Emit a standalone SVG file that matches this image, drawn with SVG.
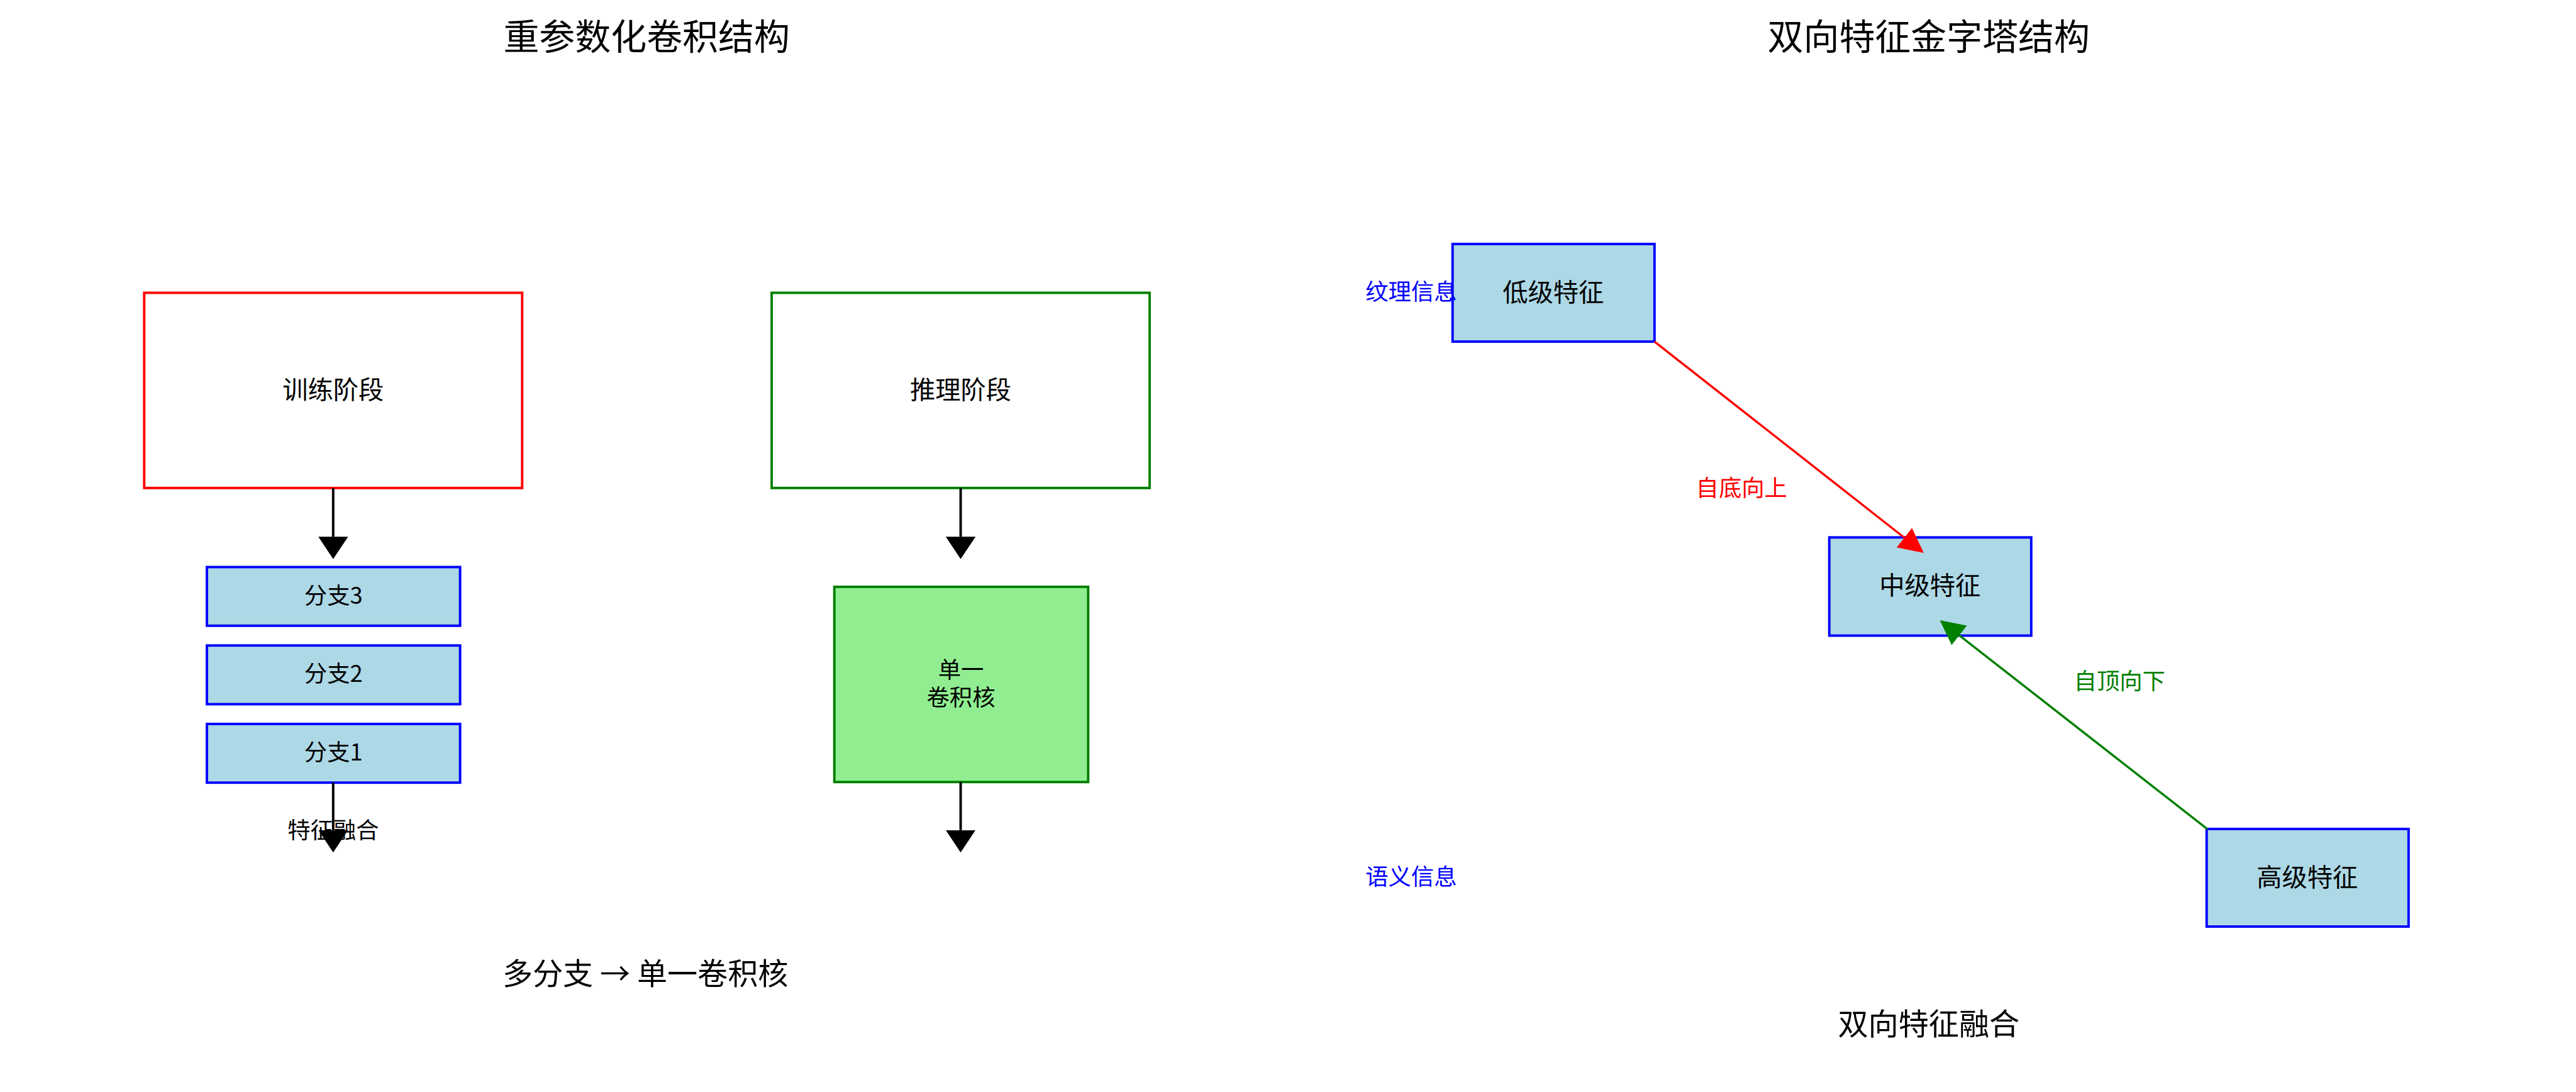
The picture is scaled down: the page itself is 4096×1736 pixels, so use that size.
<svg xmlns="http://www.w3.org/2000/svg" width="4096" height="1736" viewBox="0 0 4096 1736">
<style>
text{font-family:"Noto Sans CJK SC","Noto Sans",sans-serif;text-anchor:middle;dominant-baseline:central;fill:#000}
.title{font-size:58px}
.cap{font-size:49px}
.lab{font-size:41px}
.sm{font-size:37px}
.blue{fill:#0000FF}
.red{fill:#FF0000}
.grn{fill:#008000}
.box-b{fill:#ADD8E6;stroke:#0000FF;stroke-width:4}
</style>
<defs>
<marker id="ah-k" markerUnits="userSpaceOnUse" viewBox="0 -24 36 48" refX="0" refY="0" markerWidth="36" markerHeight="48" orient="auto"><path d="M0,-24 L36,0 L0,24 Z" fill="#000"/></marker>
<marker id="ah-r" markerUnits="userSpaceOnUse" viewBox="0 -20 40 40" refX="0" refY="0" markerWidth="40" markerHeight="40" orient="auto"><path d="M0,-20 L40,0 L0,20 Z" fill="#FF0000"/></marker>
<marker id="ah-g" markerUnits="userSpaceOnUse" viewBox="0 -20 40 40" refX="0" refY="0" markerWidth="40" markerHeight="40" orient="auto"><path d="M0,-20 L40,0 L0,20 Z" fill="#008000"/></marker>
</defs>
<rect width="4096" height="1736" fill="#fff"/>
<g transform="scale(0.982)">
<g id="titles">
<text class="title" x="1047" y="55">重参数化卷积结构</text>
<text class="title" x="3123" y="55">双向特征金字塔结构</text>
<text class="cap" x="1045" y="1572">多分支 → 单一卷积核</text>
<text class="cap" x="3123" y="1654">双向特征融合</text>
</g>
<g id="train">
<rect x="233.5" y="474" width="612" height="316" fill="#fff" stroke="#FF0000" stroke-width="4"/>
<text class="lab" x="539.5" y="628">训练阶段</text>
</g>
<g id="branch3"><rect class="box-b" x="335" y="918" width="410" height="95"/><text class="sm" x="540" y="961">分支3</text></g>
<g id="branch2"><rect class="box-b" x="335" y="1045" width="410" height="95"/><text class="sm" x="540" y="1088">分支2</text></g>
<g id="branch1"><rect class="box-b" x="335" y="1172" width="410" height="95"/><text class="sm" x="540" y="1215">分支1</text></g>
<g id="fusion-label"><text class="sm" x="539.5" y="1341">特征融合</text></g>
<g id="infer">
<rect x="1249.5" y="474" width="612" height="316" fill="#fff" stroke="#008000" stroke-width="4"/>
<text class="lab" x="1555.5" y="628">推理阶段</text>
</g>
<g id="single">
<rect x="1351" y="950" width="411" height="316" fill="#90EE90" stroke="#008000" stroke-width="4"/>
<text class="sm" x="1556" y="1081">单一</text>
<text class="sm" x="1556" y="1126">卷积核</text>
</g>
<g id="low">
<rect class="box-b" x="2352" y="395" width="327" height="158"/>
<text class="lab" x="2515" y="470">低级特征</text>
</g>
<g id="mid">
<rect class="box-b" x="2962" y="870" width="327" height="159"/>
<text class="lab" x="3125" y="945">中级特征</text>
</g>
<g id="high">
<rect class="box-b" x="3573" y="1342" width="327" height="158"/>
<text class="lab" x="3736" y="1417">高级特征</text>
</g>
<g id="side-labels">
<text class="sm blue" x="2285" y="469">纹理信息</text>
<text class="sm blue" x="2285" y="1417">语义信息</text>
</g>
<g id="connectors">
<line x1="539.5" y1="790" x2="539.5" y2="869" stroke="#000" stroke-width="4" marker-end="url(#ah-k)"/>
<line x1="539.5" y1="1267" x2="539.5" y2="1344" stroke="#000" stroke-width="4" marker-end="url(#ah-k)"/>
<line x1="1555.5" y1="790" x2="1555.5" y2="869" stroke="#000" stroke-width="4" marker-end="url(#ah-k)"/>
<line x1="1555.5" y1="1266" x2="1555.5" y2="1344" stroke="#000" stroke-width="4" marker-end="url(#ah-k)"/>
<line x1="2679" y1="553" x2="3083.5" y2="870.4" stroke="#FF0000" stroke-width="3.5" marker-end="url(#ah-r)"/>
<line x1="3574" y1="1342" x2="3172.5" y2="1028.6" stroke="#008000" stroke-width="3.5" marker-end="url(#ah-g)"/>
<text class="sm red" x="2820" y="787">自底向上</text>
<text class="sm grn" x="3432" y="1100">自顶向下</text>
</g>
</g>
</svg>
